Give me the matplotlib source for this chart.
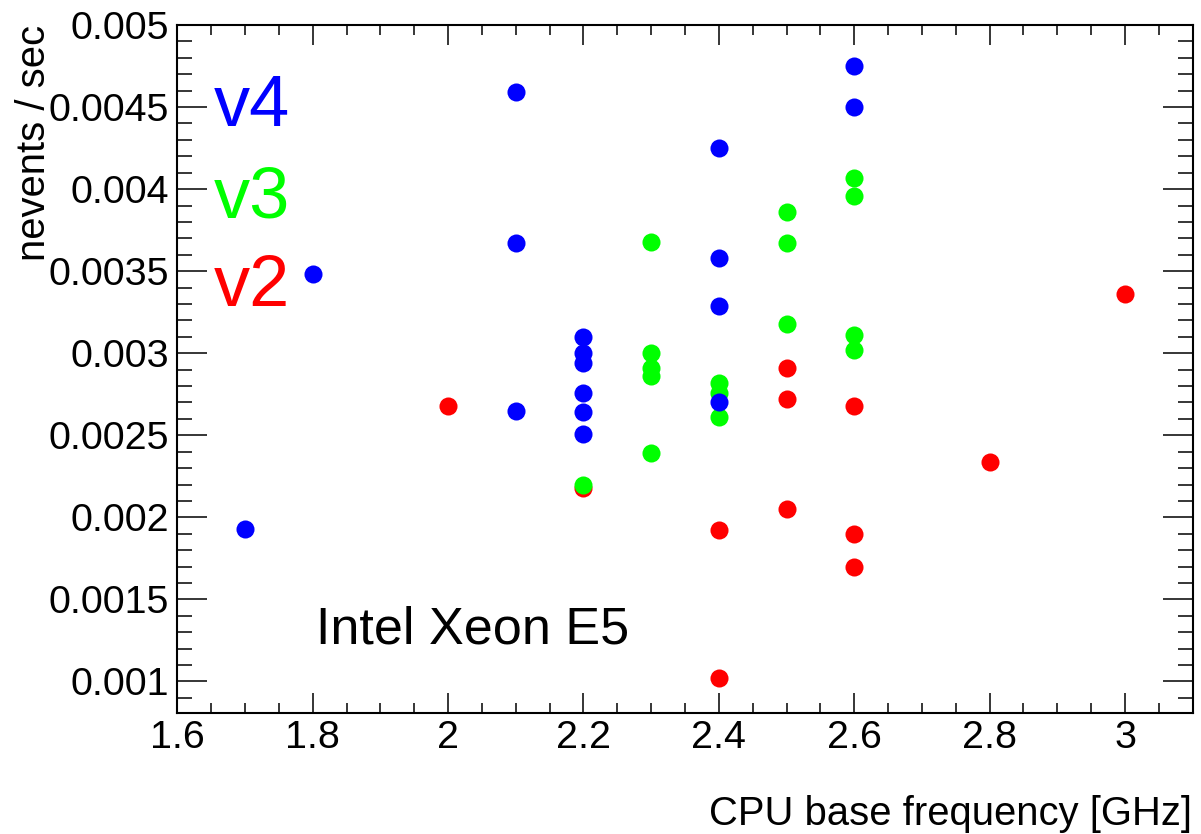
import matplotlib
matplotlib.use("Agg")
import matplotlib.pyplot as plt
from matplotlib.ticker import MultipleLocator, FuncFormatter

plt.rcParams['font.family'] = ['Liberation Sans', 'DejaVu Sans']

# ---- data ----
v4_freq = [1.7, 1.8, 2.1, 2.1, 2.1, 2.2, 2.2, 2.2, 2.2, 2.2, 2.2, 2.4, 2.4, 2.4, 2.4, 2.6, 2.6]
v4_rate = [0.00193, 0.00348, 0.00459, 0.00367, 0.00265, 0.00310, 0.00300, 0.00294,
           0.00276, 0.00264, 0.00251, 0.00425, 0.00358, 0.00329, 0.00270, 0.00475, 0.00450]

v3_freq = [2.2, 2.3, 2.3, 2.3, 2.3, 2.3, 2.4, 2.4, 2.4, 2.5, 2.5, 2.5, 2.6, 2.6, 2.6, 2.6]
v3_rate = [0.00220, 0.00368, 0.00300, 0.00291, 0.00286, 0.00239, 0.00282, 0.00276,
           0.00261, 0.00386, 0.00367, 0.00318, 0.00407, 0.00396, 0.00311, 0.00302]

v2_freq = [2.0, 2.2, 2.4, 2.4, 2.5, 2.5, 2.5, 2.6, 2.6, 2.6, 2.8, 3.0]
v2_rate = [0.00268, 0.00218, 0.00192, 0.00102, 0.00291, 0.00272, 0.00205,
           0.00268, 0.00190, 0.00170, 0.00234, 0.00336]

x_range = (1.6, 3.1)
y_range = (0.000806, 0.005)
x_label = "CPU base frequency [GHz]"
y_label = "nevents / sec"
annotation = "Intel Xeon E5"

W, H = 1201, 834
fig = plt.figure(figsize=(W / 100, H / 100), dpi=100)
L, R, T, B = 177.3, 1192.7, 25.0, 713.3
ax = fig.add_axes([L / W, 1 - B / H, (R - L) / W, (B - T) / H])

ms = 13
ax.plot(v2_freq, v2_rate, 'o', color='#ff0000', markersize=ms, markeredgewidth=0, zorder=3)
ax.plot(v3_freq, v3_rate, 'o', color='#00ff00', markersize=ms, markeredgewidth=0, zorder=4)
ax.plot(v4_freq, v4_rate, 'o', color='#0000ff', markersize=ms, markeredgewidth=0, zorder=5)

ax.set_xlim(*x_range)
ax.set_ylim(*y_range)

ax.xaxis.set_major_locator(MultipleLocator(0.2))
ax.xaxis.set_minor_locator(MultipleLocator(0.05))
ax.yaxis.set_major_locator(MultipleLocator(0.0005))
ax.yaxis.set_minor_locator(MultipleLocator(0.0001))

def fmt(v, pos):
    s = f"{v:.4f}".rstrip('0').rstrip('.')
    return s
def fmtx(v, pos):
    s = f"{v:.1f}"
    if s.endswith('.0'):
        s = s[:-2]
    return s
ax.yaxis.set_major_formatter(FuncFormatter(fmt))
ax.xaxis.set_major_formatter(FuncFormatter(fmtx))

for s in ax.spines.values():
    s.set_linewidth(1.5)

ax.tick_params(axis='both', which='both', direction='in', top=True, right=True,
               width=1.1, color='black', labelsize=28.4)
ax.tick_params(axis='x', which='major', length=14.4, pad=5)
ax.tick_params(axis='x', which='minor', length=7.2)
ax.tick_params(axis='y', which='major', length=21.6, pad=6)
ax.tick_params(axis='y', which='minor', length=10.8)

# axis titles (ROOT style, at the axis ends)
fig.text(1192 / W, 1 - 825 / H, x_label, ha='right', va='baseline', fontsize=28.8)
fig.text(45 / W, 1 - 25 / H, y_label, ha='right', va='baseline', rotation=90,
         rotation_mode='anchor', fontsize=28.8)

# version labels
fig.text(214 / W, 1 - 126 / H, "v4", color='#0000ff', fontsize=52, ha='left', va='baseline')
fig.text(214 / W, 1 - 217 / H, "v3", color='#00ff00', fontsize=52, ha='left', va='baseline')
fig.text(214 / W, 1 - 306 / H, "v2", color='#ff0000', fontsize=52, ha='left', va='baseline')

fig.text(316 / W, 1 - 644 / H, annotation, fontsize=37.5, ha='left', va='baseline')

fig.savefig("out.png", dpi=100)
